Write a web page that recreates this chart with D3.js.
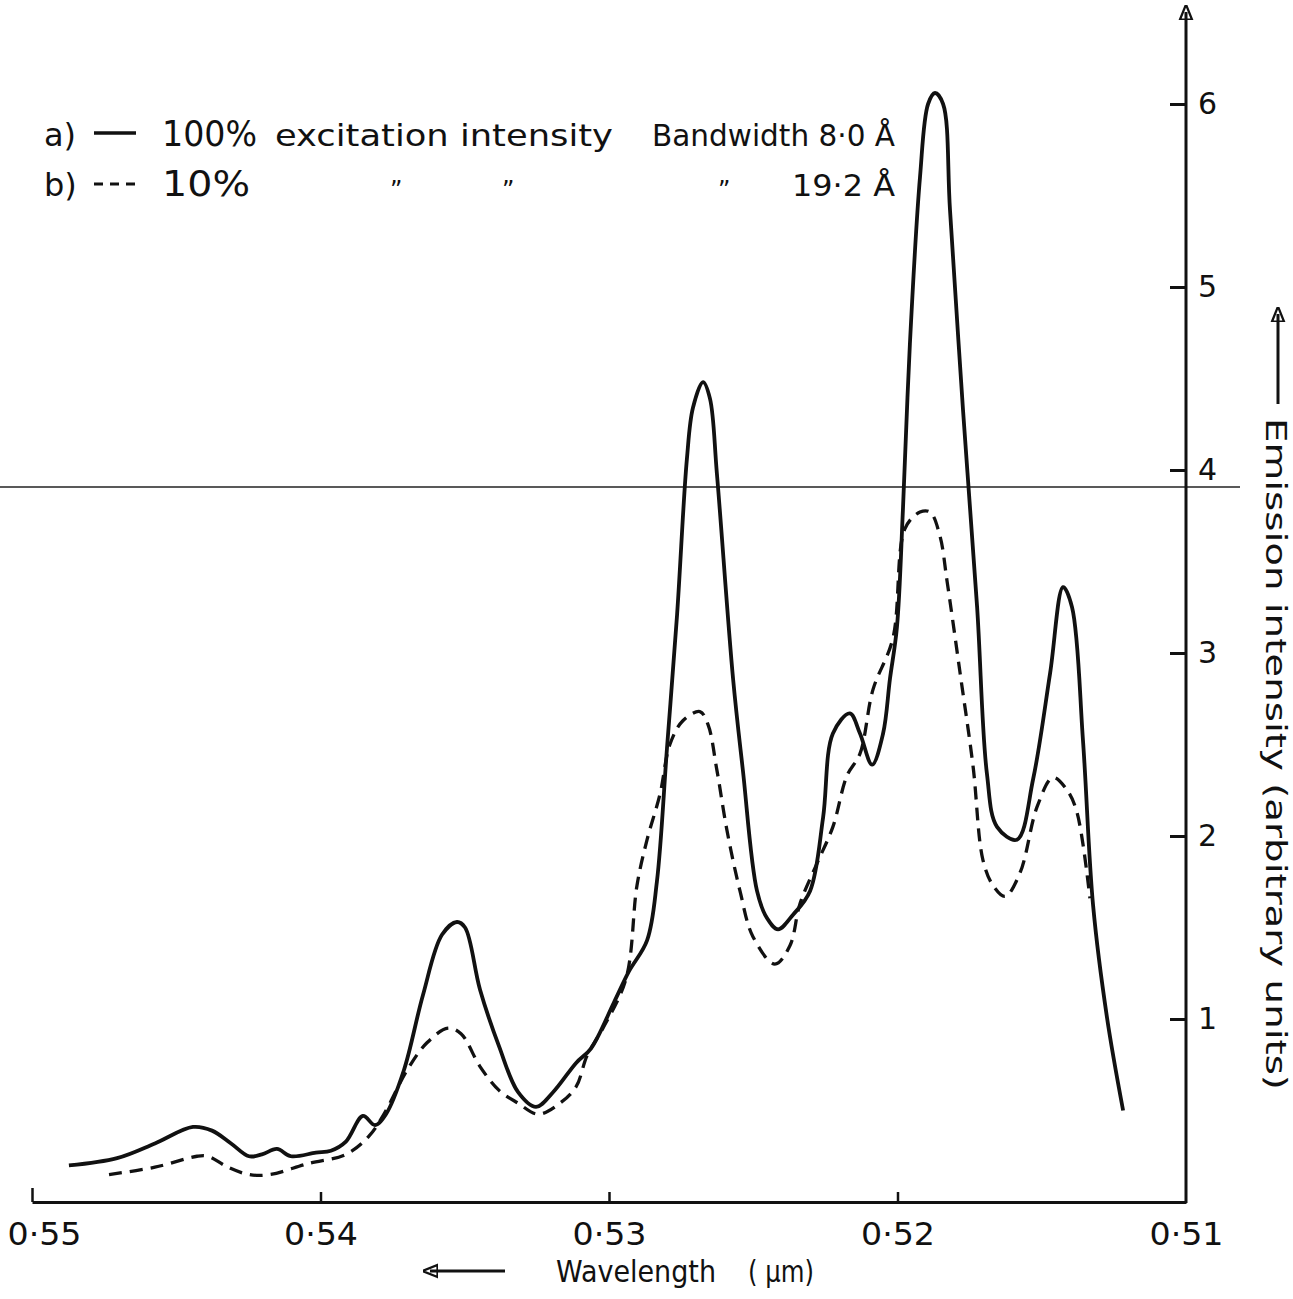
<!DOCTYPE html>
<html>
<head>
<meta charset="utf-8">
<script src="https://cdn.jsdelivr.net/npm/d3@7"></script>
<style>
  body { margin: 0; background: #fff; }
  svg { display: block; }
  text { font-family: "DejaVu Sans", sans-serif; fill: #111; }
</style>
</head>
<body>
<div id="chart"></div>
<script>
// curve a) 100% excitation, bandwidth 8.0 A  (wavelength in um, intensity arbitrary)
let wavelengthA = [0.54872, 0.54705, 0.54574, 0.54442, 0.54376, 0.54310, 0.54248, 0.54203, 0.54151, 0.54102,
  0.54016, 0.53964, 0.53912, 0.53853, 0.53811, 0.53773, 0.53711, 0.53645, 0.53579, 0.53527,
  0.53499, 0.53447, 0.53381, 0.53315, 0.53253, 0.53194, 0.53114, 0.53062, 0.52983, 0.52931,
  0.52868, 0.52834, 0.52799, 0.52764, 0.52730, 0.52709, 0.52674, 0.52650, 0.52626, 0.52570,
  0.52536, 0.52487, 0.52452, 0.52414, 0.52362, 0.52303, 0.52258, 0.52224, 0.52165, 0.52130,
  0.52088, 0.52050, 0.52026, 0.52002, 0.51981, 0.51957, 0.51922, 0.51894, 0.51870, 0.51842,
  0.51818, 0.51773, 0.51724, 0.51690, 0.51655, 0.51586, 0.51530, 0.51471, 0.51426, 0.51395,
  0.51357, 0.51322, 0.51274, 0.51218];
let intensityA = [0.20, 0.24, 0.32, 0.41, 0.39, 0.32, 0.25, 0.26, 0.29, 0.25,
  0.27, 0.28, 0.33, 0.47, 0.42, 0.48, 0.72, 1.13, 1.46, 1.53,
  1.50, 1.16, 0.85, 0.60, 0.52, 0.60, 0.76, 0.84, 1.09, 1.26,
  1.43, 1.75, 2.48, 3.21, 4.06, 4.34, 4.48, 4.39, 3.98, 2.86,
  2.36, 1.70, 1.55, 1.49, 1.57, 1.70, 2.10, 2.56, 2.67, 2.56,
  2.39, 2.56, 2.86, 3.14, 3.79, 4.69, 5.60, 6.00, 6.06, 6.00,
  5.42, 4.33, 3.25, 2.34, 2.05, 1.98, 2.31, 2.89, 3.36, 3.25,
  2.52, 1.62, 1.01, 0.50];

// curve b) 10% excitation, bandwidth 19.2 A
let wavelengthB = [0.54733, 0.54574, 0.54428, 0.54390, 0.54321, 0.54248, 0.54175, 0.54043, 0.53912, 0.53832,
  0.53780, 0.53700, 0.53631, 0.53558, 0.53513, 0.53447, 0.53381, 0.53315, 0.53246, 0.53170,
  0.53114, 0.53076, 0.53021, 0.52941, 0.52903, 0.52868, 0.52823, 0.52789, 0.52744, 0.52685,
  0.52657, 0.52626, 0.52591, 0.52546, 0.52501, 0.52425, 0.52373, 0.52338, 0.52279, 0.52224,
  0.52175, 0.52130, 0.52085, 0.52016, 0.51974, 0.51922, 0.51887, 0.51853, 0.51828, 0.51783,
  0.51738, 0.51704, 0.51669, 0.51627, 0.51575, 0.51516, 0.51461, 0.51412, 0.51378, 0.51333];
let intensityB = [0.15, 0.19, 0.25, 0.25, 0.19, 0.15, 0.15, 0.21, 0.26, 0.36,
  0.48, 0.72, 0.87, 0.95, 0.92, 0.74, 0.61, 0.54, 0.48, 0.54,
  0.63, 0.80, 0.95, 1.22, 1.73, 1.98, 2.23, 2.50, 2.63, 2.68,
  2.61, 2.36, 2.03, 1.70, 1.45, 1.30, 1.40, 1.63, 1.85, 2.05,
  2.33, 2.45, 2.80, 3.08, 3.68, 3.77, 3.77, 3.64, 3.39, 2.89,
  2.38, 1.87, 1.73, 1.67, 1.80, 2.16, 2.32, 2.25, 2.13, 1.66];

let xTicks = [0.55, 0.54, 0.53, 0.52, 0.51];
let xTickLabels = ["0·55", "0·54", "0·53", "0·52", "0·51"];
let yTicks = [1, 2, 3, 4, 5, 6];

let width = 1293, height = 1299;

let svg = d3.select("#chart").append("svg")
    .attr("width", width)
    .attr("height", height);

// wavelength runs right to left
let x = d3.scaleLinear().domain([0.55, 0.51]).range([32, 1186]);
let y = d3.scaleLinear().domain([0, 6]).range([1202, 104]);

// stray scan line across the sheet
svg.append("line")
    .attr("x1", 0).attr("x2", 1240)
    .attr("y1", 487).attr("y2", 487)
    .attr("stroke", "#222")
    .attr("stroke-width", 1.4);

// x axis, ticks pointing up
let xAxis = d3.axisBottom(x)
    .tickValues(xTicks)
    .tickFormat((d, i) => xTickLabels[i])
    .tickSizeInner(-10)
    .tickSizeOuter(0)
    .tickPadding(14);

let xAxisGroup = svg.append("g")
    .attr("class", "x-axis")
    .attr("transform", "translate(0," + y(0) + ")")
    .call(xAxis);

xAxisGroup.select(".domain").attr("stroke", "#111").attr("stroke-width", 3);
xAxisGroup.selectAll(".tick line").attr("stroke", "#111").attr("stroke-width", 2.5);
xAxisGroup.selectAll(".tick").filter(d => d === 0.51).select("line").remove();
xAxisGroup.selectAll(".tick text")
    .attr("font-size", 32)
    .attr("dy", "0.9em")
    .attr("textLength", 74)
    .attr("lengthAdjust", "spacingAndGlyphs")
    .style("font-family", "DejaVu Sans, sans-serif");
// first label sits a bit right of its tick, so it stays on the sheet
xAxisGroup.selectAll(".tick").filter(d => d === 0.55).select("text").attr("dx", 12);
xAxisGroup.selectAll(".tick").filter(d => d === 0.55).select("line").attr("y2", -14);

// y axis on the right, ticks to the left of the line
let yAxis = d3.axisRight(y)
    .tickValues(yTicks)
    .tickFormat(d3.format("d"))
    .tickSizeInner(-16)
    .tickSizeOuter(0)
    .tickPadding(12);

let yAxisGroup = svg.append("g")
    .attr("class", "y-axis")
    .attr("transform", "translate(" + x(0.51) + ",0)")
    .call(yAxis);

yAxisGroup.select(".domain").remove();
yAxisGroup.selectAll(".tick line").attr("stroke", "#111").attr("stroke-width", 3);
yAxisGroup.selectAll(".tick text")
    .attr("font-size", 30)
    .style("font-family", "DejaVu Sans, sans-serif");

svg.append("defs").append("marker")
    .attr("id", "arrow")
    .attr("viewBox", "0 0 10 10")
    .attr("refX", 5).attr("refY", 5)
    .attr("markerWidth", 5).attr("markerHeight", 6)
    .attr("orient", "auto")
    .append("path")
    .attr("d", "M0,1 L10,5 L0,9 Z")
    .attr("fill", "none")
    .attr("stroke", "#111")
    .attr("stroke-width", 1.5);

yAxisGroup.append("line")
    .attr("x1", 0).attr("x2", 0)
    .attr("y1", y(0) + 1).attr("y2", 12)
    .attr("stroke", "#111")
    .attr("stroke-width", 3)
    .attr("marker-end", "url(#arrow)");

// curves
let line = d3.line()
    .x(d => x(d[0]))
    .y(d => y(d[1]))
    .curve(d3.curveCatmullRom.alpha(0.5));

let seriesA = wavelengthA.map((w, i) => [w, intensityA[i]]);
let seriesB = wavelengthB.map((w, i) => [w, intensityB[i]]);

svg.append("path")
    .datum(seriesB)
    .attr("d", line)
    .attr("fill", "none")
    .attr("stroke", "#111")
    .attr("stroke-width", 3.3)
    .attr("stroke-dasharray", "13,8");

svg.append("path")
    .datum(seriesA)
    .attr("d", line)
    .attr("fill", "none")
    .attr("stroke", "#111")
    .attr("stroke-width", 3.8);

// axis titles
svg.append("text")
    .attr("x", 556).attr("y", 1282)
    .attr("font-size", 30)
    .attr("textLength", 160)
    .attr("lengthAdjust", "spacingAndGlyphs")
    .text("Wavelength");
svg.append("text")
    .attr("x", 748).attr("y", 1282)
    .attr("font-size", 30)
    .attr("textLength", 66)
    .attr("lengthAdjust", "spacingAndGlyphs")
    .text("( μm)");
svg.append("line")
    .attr("x1", 505).attr("x2", 430)
    .attr("y1", 1271).attr("y2", 1271)
    .attr("stroke", "#111")
    .attr("stroke-width", 3)
    .attr("marker-end", "url(#arrow)");

svg.append("text")
    .attr("transform", "translate(1266,418) rotate(90)")
    .attr("font-size", 28)
    .attr("textLength", 672)
    .attr("lengthAdjust", "spacingAndGlyphs")
    .text("Emission  intensity  (arbitrary  units)");
svg.append("line")
    .attr("x1", 1278).attr("x2", 1278)
    .attr("y1", 404).attr("y2", 314)
    .attr("stroke", "#111")
    .attr("stroke-width", 3)
    .attr("marker-end", "url(#arrow)");

// legend
let legend = svg.append("g").attr("class", "legend");
legend.append("text").attr("x", 44).attr("y", 146).attr("font-size", 32).text("a)");
legend.append("line")
    .attr("x1", 94).attr("x2", 136).attr("y1", 133).attr("y2", 133)
    .attr("stroke", "#111").attr("stroke-width", 3.6);
legend.append("text").attr("x", 162).attr("y", 146).attr("font-size", 36)
    .attr("textLength", 95).attr("lengthAdjust", "spacingAndGlyphs").text("100%");
legend.append("text").attr("x", 275).attr("y", 146).attr("font-size", 30)
    .attr("textLength", 338).attr("lengthAdjust", "spacingAndGlyphs").text("excitation  intensity");
legend.append("text").attr("x", 652).attr("y", 146).attr("font-size", 30)
    .attr("textLength", 243).attr("lengthAdjust", "spacingAndGlyphs").text("Bandwidth 8·0 Å");

legend.append("text").attr("x", 44).attr("y", 196).attr("font-size", 32).text("b)");
legend.append("line")
    .attr("x1", 94).attr("x2", 138).attr("y1", 184).attr("y2", 184)
    .attr("stroke", "#111").attr("stroke-width", 3.2)
    .attr("stroke-dasharray", "9,7");
legend.append("text").attr("x", 162).attr("y", 196).attr("font-size", 36)
    .attr("textLength", 88).attr("lengthAdjust", "spacingAndGlyphs").text("10%");
[390, 502, 718].forEach(px => {
    legend.append("text").attr("x", px).attr("y", 198).attr("font-size", 24).text("\u201D");
});
legend.append("text").attr("x", 792).attr("y", 196).attr("font-size", 30)
    .attr("textLength", 103).attr("lengthAdjust", "spacingAndGlyphs").text("19·2 Å");
</script>
</body>
</html>
